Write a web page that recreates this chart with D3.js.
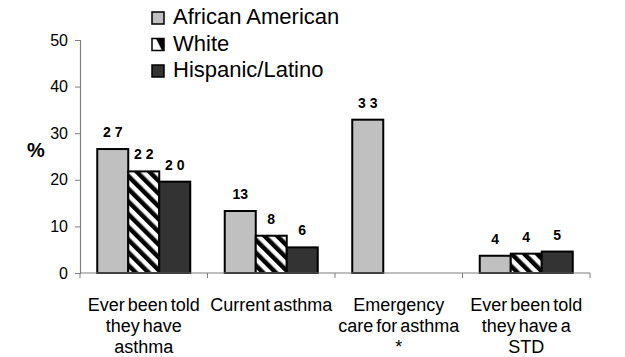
<!DOCTYPE html>
<html><head><meta charset="utf-8">
<script src="https://cdn.jsdelivr.net/npm/d3@7"></script>
<style>body{margin:0;background:#fff;font-family:"Liberation Sans",Arial,sans-serif;}</style>
</head><body><svg id="c" width="625" height="357"></svg>
<script>
const categories = [["Ever been told","they have","asthma"],["Current asthma"],["Emergency","care for asthma","*"],["Ever been told","they have a","STD"]];
const seriesNames = ["African American","White","Hispanic/Latino"];
const africanAmerican = [26.6, 13.3, 32.9, 3.7];
const white = [21.8, 8.0, null, 4.15];
const hispanic = [19.6, 5.5, null, 4.6];
const labelsAA = ["2 7","13","3 3","4"];
const labelsW = ["2 2","8","","4"];
const labelsH = ["2 0","6","","5"];
const yTicks = [0,10,20,30,40,50];

const svg = d3.select("#c");
const defs = svg.append("defs");
const pat = defs.append("pattern").attr("id","hatch").attr("patternUnits","userSpaceOnUse")
  .attr("width",9).attr("height",9).attr("patternTransform","rotate(-45)");
pat.append("rect").attr("width",9).attr("height",9).attr("fill","#fff");
pat.append("rect").attr("x",0).attr("y",0).attr("width",4.5).attr("height",9).attr("fill","#000");
const pat2 = defs.append("pattern").attr("id","hatchL").attr("patternUnits","objectBoundingBox")
  .attr("width",1).attr("height",1);
pat2.append("rect").attr("width",12).attr("height",12).attr("fill","#fff");
pat2.append("path").attr("d","M4,0 L12,0 L12,12 L10,12 Z").attr("fill","#000");

const fills = ["#c0c0c0","url(#hatch)","#333333"];
const series = [africanAmerican, white, hispanic];
const labels = [labelsAA, labelsW, labelsH];

const x0 = 80, x1 = 590, y0 = 273, yTop = 40;
const x = d3.scaleBand().domain(d3.range(categories.length)).range([x0,x1]).paddingInner(0).paddingOuter(0);
const y = d3.scaleLinear().domain([0,50]).range([y0,yTop]);
const barW = 31;

const g = svg.append("g");
categories.forEach((c,i)=>{
  const cx = x(i)+x.bandwidth()/2;
  series.forEach((s,k)=>{
    if(s[i]==null) return;
    const bx = cx - 1.5*barW + k*barW;
    g.append("rect").attr("x",bx).attr("y",y(s[i])).attr("width",barW).attr("height",y0-y(s[i]))
      .attr("fill",fills[k]).attr("stroke","#000").attr("stroke-width",2);
    g.append("text").attr("x",bx+barW/2).attr("y",y(s[i])-12).attr("text-anchor","middle")
      .attr("font-size",14).attr("font-weight","bold").attr("fill","#000").text(labels[k][i]);
  });
});

// y axis
const ya = svg.append("g").attr("transform",`translate(${x0},0)`)
  .call(d3.axisLeft(y).tickValues(yTicks).tickSize(5).tickPadding(7));
ya.attr("font-size",16).attr("font-family","Liberation Sans, Arial, sans-serif");
ya.select(".domain").attr("stroke","#808080").attr("stroke-width",1.2);
ya.selectAll(".tick line").attr("stroke","#808080");
ya.selectAll("text").style("font-size","16px").attr("fill","#000");

// x axis
const xa = svg.append("g");
xa.append("line").attr("x1",x0).attr("x2",x1).attr("y1",y0).attr("y2",y0).attr("stroke","#808080").attr("stroke-width",1.2);
d3.range(categories.length+1).forEach(i=>{
  const tx = i<categories.length ? x(i) : x1;
  xa.append("line").attr("x1",tx).attr("x2",tx).attr("y1",y0).attr("y2",y0+5).attr("stroke","#808080");
});
categories.forEach((c,i)=>{
  const cx = x(i)+x.bandwidth()/2;
  const t = xa.append("text").attr("text-anchor","middle").attr("font-size",18).attr("word-spacing",-2).attr("fill","#000");
  c.forEach((line,j)=>{
    t.append("tspan").attr("x",cx).attr("y",311+j*21).text(line);
  });
});

svg.append("text").attr("x",36).attr("y",157).attr("text-anchor","middle").attr("font-size",20)
  .attr("font-weight","bold").text("%");

// legend
const lg = svg.append("g");
seriesNames.forEach((n,k)=>{
  const ly = 24 + k*26.5;
  lg.append("rect").attr("x",152).attr("y",ly-12).attr("width",12).attr("height",12)
    .attr("fill",k===1?"url(#hatchL)":fills[k]).attr("stroke","#000").attr("stroke-width",1.5);
  lg.append("text").attr("x",173).attr("y",ly).attr("font-size",22).text(n);
});
</script></body></html>
